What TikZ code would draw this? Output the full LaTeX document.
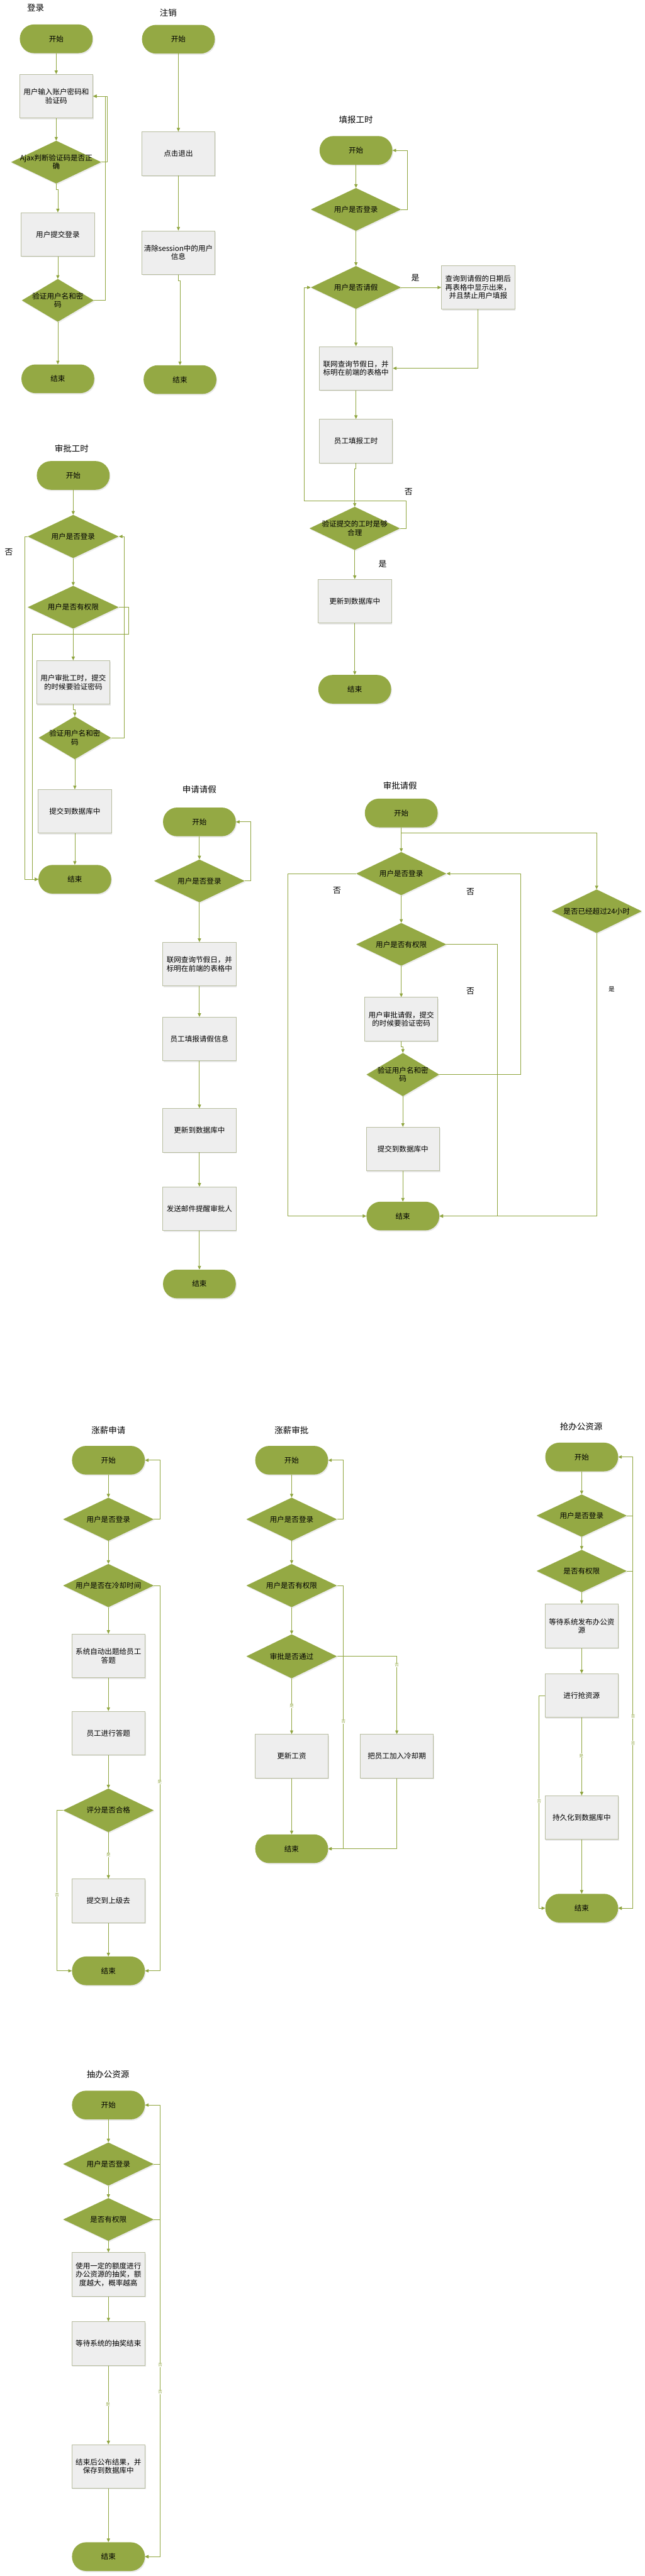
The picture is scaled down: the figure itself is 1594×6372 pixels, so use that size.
\documentclass[tikz,border=0pt]{standalone}
\usepackage{fontspec}
\setmainfont{Noto Sans CJK SC}
\usetikzlibrary{shapes.geometric,arrows.meta,shadows}
\definecolor{tgreen}{HTML}{94A944}
\definecolor{lgreen}{HTML}{8FA53E}
\definecolor{boxgray}{HTML}{EEEEEE}
\definecolor{boxline}{HTML}{B8BDA0}
\newcommand\myfs{\fontsize{18}{21}\selectfont}
\newcommand\myft{\fontsize{21}{25}\selectfont}
\newcommand\myfl{\fontsize{20}{24}\selectfont}
\newcommand\myfm{\fontsize{15}{18}\selectfont}
\newcommand\myfsl{\fontsize{10}{12}\selectfont}
\tikzset{
  termsty/.style={rectangle, rounded corners=35pt, fill=tgreen, minimum width=180pt, minimum height=71pt, inner sep=0pt, font=\myfs, drop shadow={opacity=0.18, shadow xshift=2pt, shadow yshift=-3pt}},
  boxsty/.style={rectangle, fill=boxgray, draw=boxline, line width=1.2pt, minimum width=181pt, minimum height=108pt, text width=174pt, align=center, font=\myfs, inner sep=2pt, drop shadow={opacity=0.18, shadow xshift=2pt, shadow yshift=-3pt}},
  diasty/.style={diamond, fill=tgreen, inner sep=0pt, drop shadow={opacity=0.15, shadow xshift=2pt, shadow yshift=-3pt}},
  dtext/.style={font=\myfs, align=center},
  conn/.style={draw=lgreen, line width=1.3pt, -{Triangle[length=9pt,width=8pt]}},
  ttl/.style={font=\myft},
  lbl/.style={font=\myfl},
  mlbl/.style={font=\myfm},
  slbl/.style={font=\myfsl, text=lgreen, fill=white, inner sep=1pt},
}
\newcommand\dia[6]{\node[diasty, minimum width=#4pt, minimum height=#5pt] (#1) at (#2,#3) {}; \node[dtext] at (#1) {#6};}
\begin{document}
\begin{tikzpicture}[x=1pt, y=-1pt]
\useasboundingbox (0,0) rectangle (1594,6372);
\fill[white] (0,0) rectangle (1594,6372);

% ===== 登录 =====
\node[ttl] (ta) at (88,20) {登录};
\node[termsty] (a0) at (139,96) {开始};
\node[boxsty] (a1) at (139,238) {用户输入账户密码和\\验证码};
\dia{a2}{139}{401}{223}{106}{Ajax判断验证码是否正\\确}
\node[boxsty] (a3) at (143,580) {用户提交登录};
\dia{a4}{143}{743}{178}{106}{验证用户名和密\\码}
\node[termsty] (a5) at (143,937) {结束};
\draw[conn] (a0) -- (a1);
\draw[conn] (a1) -- (a2);
\draw[conn] (a2.south) -- ++(0,14) -| (a3.north);
\draw[conn] (a3) -- (a4);
\draw[conn] (a4) -- (a5);
\draw[conn] (a2.east) -- ++(15,0) |- (a1.east);
\draw[conn] (a4.east) -- ++(29,0) |- (a1.east);

% ===== 注销 =====
\node[ttl] (tb) at (416,32) {注销};
\node[termsty] (b0) at (441,97) {开始};
\node[boxsty] (b1) at (441,380) {点击退出};
\node[boxsty] (b2) at (441,625) {清除session中的用户\\信息};
\node[termsty] (b3) at (445,939) {结束};
\draw[conn] (b0) -- (b1);
\draw[conn] (b1) -- (b2);
\draw[conn] (b2.south) -- ++(0,15) -| (b3.north);

% ===== 填报工时 =====
\node[ttl] (tc) at (880,296) {填报工时};
\node[termsty] (c0) at (880,372) {开始};
\dia{c1}{880}{518}{223}{106}{用户是否登录}
\dia{c2}{880}{711}{223}{106}{用户是否请假}
\node[boxsty] (c3) at (1182,711) {查询到请假的日期后\\再表格中显示出来，\\并且禁止用户填报};
\node[boxsty] (c4) at (880,911) {联网查询节假日，并\\标明在前端的表格中};
\node[boxsty] (c5) at (880,1091) {员工填报工时};
\dia{c6}{877}{1307}{224}{107}{验证提交的工时是够\\合理}
\node[boxsty] (c7) at (877,1487) {更新到数据库中};
\node[termsty] (c8) at (877,1705) {结束};
\coordinate (c6a) at (752,1239);
\draw[conn] (c0) -- (c1);
\draw[conn] (c1.east) -- ++(16,0) |- (c0.east);
\draw[conn] (c1) -- (c2);
\draw[conn] (c2.east) -- (c3.west);
\draw[conn] (c3.south) |- (c4.east);
\draw[conn] (c2) -- (c4);
\draw[conn] (c4) -- (c5);
\draw[conn] (c5.south) -- ++(0,14) -| (c6.north);
\draw[conn] (c6.east) -- ++(15,0) |- (c6a) |- (c2.west);
\draw[conn] (c6) -- (c7);
\draw[conn] (c7) -- (c8);
\node[lbl] (lc1) at (1027,688) {是};
\node[lbl] (lc2) at (1010,1216) {否};
\node[lbl] (lc3) at (946,1395) {是};

% ===== 审批工时 =====
\node[ttl] (td) at (177,1109) {审批工时};
\node[termsty] (d0) at (181,1176) {开始};
\dia{d1}{181}{1327}{225}{107}{用户是否登录}
\dia{d2}{181}{1502}{225}{106}{用户是否有权限}
\node[boxsty] (d3) at (181,1688) {用户审批工时，提交\\的时候要验证密码};
\dia{d4}{185}{1825}{179}{106}{验证用户名和密\\码}
\node[boxsty] (d5) at (185,2007) {提交到数据库中};
\node[termsty] (d6) at (185,2175) {结束};
\coordinate (d2a) at (80,1568);
\draw[conn] (d0) -- (d1);
\draw[conn] (d1) -- (d2);
\draw[conn] (d2) -- (d3);
\draw[conn] (d3.south) -- ++(0,13) -| (d4.north);
\draw[conn] (d4) -- (d5);
\draw[conn] (d5) -- (d6);
\draw[conn] (d1.west) -- ++(-7,0) |- (d6.west);
\draw[conn] (d2.east) -- ++(25,0) |- (d2a) |- (d6.west);
\draw[conn] (d4.east) -- ++(33,0) |- (d1.east);
\node[lbl] (ld1) at (22,1366) {否};

% ===== 申请请假 =====
\node[ttl] (te) at (493,1953) {申请请假};
\node[termsty] (e0) at (493,2033) {开始};
\dia{e1}{493}{2179}{224}{106}{用户是否登录}
\node[boxsty] (e2) at (493,2385) {联网查询节假日，并\\标明在前端的表格中};
\node[boxsty] (e3) at (493,2570) {员工填报请假信息};
\node[boxsty] (e4) at (493,2796) {更新到数据库中};
\node[boxsty] (e5) at (493,2990) {发送邮件提醒审批人};
\node[termsty] (e6) at (493,3176) {结束};
\draw[conn] (e0) -- (e1);
\draw[conn] (e1.east) -- ++(15,0) |- (e0.east);
\draw[conn] (e1) -- (e2);
\draw[conn] (e2) -- (e3);
\draw[conn] (e3) -- (e4);
\draw[conn] (e4) -- (e5);
\draw[conn] (e5) -- (e6);

% ===== 审批请假 =====
\node[ttl] (tf) at (989,1943) {审批请假};
\node[termsty] (f0) at (992,2011) {开始};
\dia{f1}{992}{2161}{223}{107}{用户是否登录}
\dia{f2}{992}{2336}{223}{106}{用户是否有权限}
\node[boxsty] (f3) at (992,2521) {用户审批请假，提交\\的时候要验证密码};
\dia{f4}{996}{2658}{180}{107}{验证用户名和密\\码}
\node[boxsty] (f5) at (996,2842) {提交到数据库中};
\node[termsty] (f6) at (996,3008) {结束};
\dia{f7}{1475}{2254}{223}{108}{是否已经超过24小时}
\draw[conn] (f0) -- (f1);
\draw[conn] (f0.south) -- ++(0,14) -| (f7.north);
\draw[conn] (f1) -- (f2);
\draw[conn] (f2) -- (f3);
\draw[conn] (f3.south) -- ++(0,13) -| (f4.north);
\draw[conn] (f4) -- (f5);
\draw[conn] (f5) -- (f6);
\draw[conn] (f1.west) -- ++(-168,0) |- (f6.west);
\draw[conn] (f2.east) -- ++(126,0) |- (f6.east);
\draw[conn] (f4.east) -- ++(201,0) |- (f1.east);
\draw[conn] (f7.south) |- (f6.east);
\node[lbl] (lf1) at (833,2202) {否};
\node[lbl] (lf2) at (1163,2206) {否};
\node[lbl] (lf3) at (1163,2452) {否};
\node[mlbl] (lf4) at (1512,2447) {是};

% ===== 涨薪申请 =====
\node[ttl] (tg) at (268,3538) {涨薪申请};
\node[termsty] (g0) at (268,3612) {开始};
\dia{g1}{268}{3758}{224}{107}{用户是否登录}
\dia{g2}{268}{3922}{224}{107}{用户是否在冷却时间}
\node[boxsty] (g3) at (268,4096) {系统自动出题给员工\\答题};
\node[boxsty] (g4) at (268,4287) {员工进行答题};
\dia{g5}{268}{4478}{224}{108}{评分是否合格}
\node[boxsty] (g6) at (268,4702) {提交到上级去};
\node[termsty] (g7) at (268,4875) {结束};
\draw[conn] (g0) -- (g1);
\draw[conn] (g1.east) -- ++(15,0) |- (g0.east);
\draw[conn] (g1) -- (g2);
\draw[conn] (g2) -- (g3);
\draw[conn] (g3) -- (g4);
\draw[conn] (g4) -- (g5);
\draw[conn] (g5) -- (g6);
\draw[conn] (g6) -- (g7);
\draw[conn] (g2.east) -- ++(15,0) |- (g7.east);
\draw[conn] (g5.west) -- ++(-15,0) |- (g7.west);
\node[slbl] (lg1) at (395,4408) {是};
\node[slbl] (lg2) at (141,4687) {否};
\node[slbl] (lg3) at (268,4588) {是};

% ===== 涨薪审批 =====
\node[ttl] (th) at (721,3538) {涨薪审批};
\node[termsty] (h0) at (721,3612) {开始};
\dia{h1}{721}{3758}{224}{107}{用户是否登录}
\dia{h2}{721}{3922}{224}{107}{用户是否有权限}
\dia{h3}{721}{4097}{224}{109}{审批是否通过}
\node[boxsty] (h4) at (721,4344) {更新工资};
\node[boxsty] (h5) at (981,4344) {把员工加入冷却期};
\node[termsty] (h6) at (721,4573) {结束};
\draw[conn] (h0) -- (h1);
\draw[conn] (h1.east) -- ++(16,0) |- (h0.east);
\draw[conn] (h1) -- (h2);
\draw[conn] (h2) -- (h3);
\draw[conn] (h3) -- (h4);
\draw[conn] (h3.east) -| (h5.north);
\draw[conn] (h4) -- (h6);
\draw[conn] (h5.south) |- (h6.east);
\draw[conn] (h2.east) -- ++(16,0) |- (h6.east);
\node[slbl] (lh1) at (849,4258) {否};
\node[slbl] (lh2) at (981,4118) {否};
\node[slbl] (lh3) at (721,4219) {是};

% ===== 抢办公资源 =====
\node[ttl] (tk) at (1437,3528) {抢办公资源};
\node[termsty] (k0) at (1438,3604) {开始};
\dia{k1}{1438}{3749}{223}{105}{用户是否登录}
\dia{k2}{1438}{3886}{223}{105}{是否有权限}
\node[boxsty] (k3) at (1438,4022) {等待系统发布办公资\\源};
\node[boxsty] (k4) at (1438,4194) {进行抢资源};
\node[boxsty] (k5) at (1438,4496) {持久化到数据库中};
\node[termsty] (k6) at (1438,4720) {结束};
\draw[conn] (k0) -- (k1);
\draw[conn] (k1) -- (k2);
\draw[conn] (k2) -- (k3);
\draw[conn] (k3) -- (k4);
\draw[conn] (k4) -- (k5);
\draw[conn] (k5) -- (k6);
\draw[conn] (k1.east) -- ++(15,0) |- (k0.east);
\draw[conn] (k1.east) -- ++(15,0) |- (k6.east);
\draw[conn] (k2.east) -- ++(15,0) |- (k6.east);
\draw[conn] (k4.west) -- ++(-14,0) |- (k6.west);
\node[slbl] (lk1) at (1565,4246) {否};
\node[slbl] (lk2) at (1565,4312) {否};
\node[slbl] (lk3) at (1437,4343) {是};
\node[slbl] (lk4) at (1333,4455) {否};

% ===== 抽办公资源 =====
\node[ttl] (tm) at (267,5131) {抽办公资源};
\node[termsty] (m0) at (268,5207) {开始};
\dia{m1}{268}{5353}{224}{107}{用户是否登录}
\dia{m2}{268}{5490}{224}{106}{是否有权限}
\node[boxsty] (m3) at (268,5626) {使用一定的额度进行\\办公资源的抽奖，额\\度越大，概率越高};
\node[boxsty] (m4) at (268,5797) {等待系统的抽奖结束};
\node[boxsty] (m5) at (268,6101) {结束后公布结果，并\\保存到数据库中};
\node[termsty] (m6) at (268,6324) {结束};
\draw[conn] (m0) -- (m1);
\draw[conn] (m1) -- (m2);
\draw[conn] (m2) -- (m3);
\draw[conn] (m3) -- (m4);
\draw[conn] (m4) -- (m5);
\draw[conn] (m5) -- (m6);
\draw[conn] (m1.east) -- ++(16,0) |- (m0.east);
\draw[conn] (m1.east) -- ++(16,0) |- (m6.east);
\draw[conn] (m2.east) -- ++(16,0) |- (m6.east);
\node[slbl] (lm1) at (396,5850) {否};
\node[slbl] (lm2) at (396,5917) {否};
\node[slbl] (lm3) at (267,5947) {是};
\end{tikzpicture}
\end{document}
